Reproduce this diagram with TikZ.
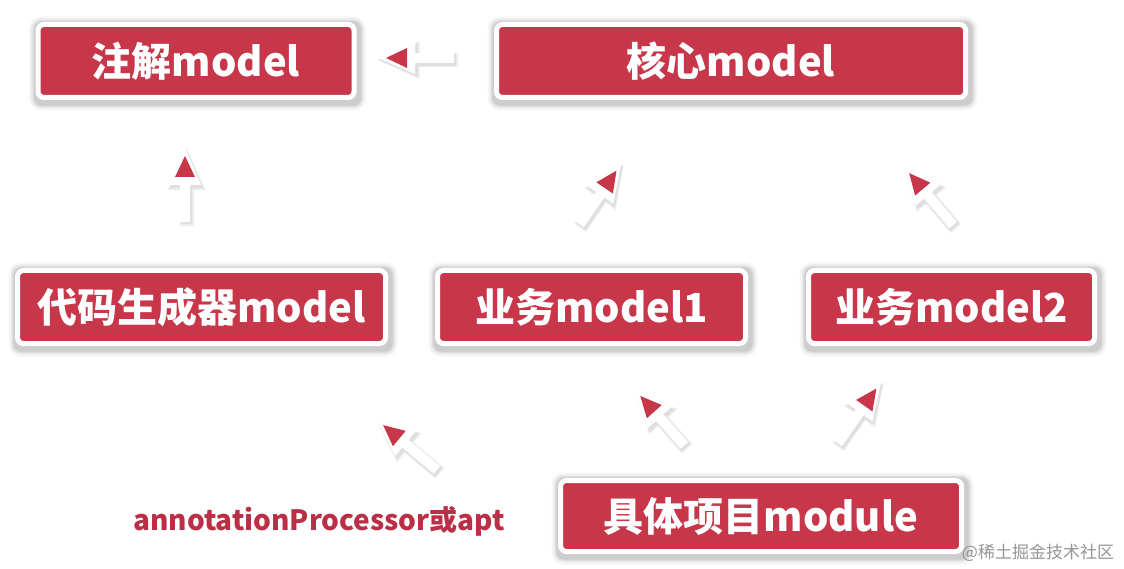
\documentclass[tikz,border=0pt]{standalone}
\usepackage{fontspec}
\setmainfont{Noto Sans CJK SC}
\usetikzlibrary{calc,backgrounds}
\definecolor{boxred}{RGB}{200,54,74}
\definecolor{labred}{RGB}{186,46,70}
\definecolor{wmgray}{RGB}{150,150,150}
\newcommand{\fatarrow}[3]{%
  \begin{scope}[shift={($(#1)+(1.5,2)$)}, rotate=#2]
    \fill[black, opacity=0.07] (2,0) -- (-40,19) -- (-40,-19) -- cycle;
    \draw[black, opacity=0.07, line width=14pt] (-40,0) -- (-#3-2,0);
    \fill[black, opacity=0.06] (0.5,0) -- (-38.5,17) -- (-38.5,-17) -- cycle;
    \draw[black, opacity=0.06, line width=11.5pt] (-38.5,0) -- (-#3-0.5,0);
  \end{scope}
  \begin{scope}[shift={(#1)}, rotate=#2]
    \draw[white, line width=10pt] (-30,0) -- (-#3,0);
    \fill[white] (0,0) -- (-37,16) -- (-37,-16) -- cycle;
    \fill[boxred] (-8,0) -- (-29,10) -- (-29,-10) -- cycle;
  \end{scope}}
\newcommand{\boxshadow}[1]{%
  \foreach \g/\o/\r in {8/0.035/12,6/0.045/10,4.5/0.06/9,3.2/0.07/8}{
    \fill[black, opacity=\o, rounded corners=\r pt]
      ($(#1.north west)+(-\g+1.5,-\g+2.5)$) rectangle ($(#1.south east)+(\g+1.5,\g+2.5)$);
  }}
\tikzset{
  box/.style={draw=white, line width=5pt, fill=boxred, rounded corners=6pt,
    minimum height=73pt, inner sep=0pt, text=white,
    font=\fontsize{40}{44}\selectfont\bfseries},
  lab/.style={text=labred, font=\fontsize{28}{30}\selectfont\bfseries, inner sep=0pt},
  wm/.style={text=wmgray, font=\fontsize{17}{19}\selectfont, inner sep=0pt}
}
\begin{document}
\begin{tikzpicture}[x=1pt,y=-1pt]
\useasboundingbox (0,0) rectangle (1124,569);

\node[box, minimum width=316pt] (zj) at (196,61) {注解model};
\node[box, minimum width=469pt] (hx) at (731,61) {核心model};
\node[box, minimum width=368pt] (dm) at (201.5,307) {代码生成器model};
\node[box, minimum width=308pt] (yw1) at (591.5,307) {业务model1};
\node[box, minimum width=286pt] (yw2) at (951.5,307) {业务model2};
\node[box, minimum width=401pt, minimum height=71pt] (jt) at (761,516) {具体项目module};

\begin{scope}[on background layer]
  \fill[white] (0,0) rectangle (1124,569);
  \foreach \n in {zj,hx,dm,yw1,yw2,jt}{\boxshadow{\n}}
\end{scope}

\node[lab] (apt) at (319,521) {annotationProcessor或apt};
\node[wm] (wmk) at (1038,553) {@稀土掘金技术社区};

\coordinate (a1) at (378,58);
\coordinate (a2) at (185,148);
\coordinate (a3) at (621,164);
\coordinate (a4) at (904,167);
\coordinate (a5) at (377,420);
\coordinate (a6) at (635,390);
\coordinate (a7) at (881,382);

\fatarrow{a1}{180}{76}
\fatarrow{a2}{90}{74}
\fatarrow{a3}{55.7}{73}
\fatarrow{a4}{130.2}{76}
\fatarrow{a5}{140.2}{78}
\fatarrow{a6}{131.7}{74}
\fatarrow{a7}{54.8}{75}
\end{tikzpicture}
\end{document}
